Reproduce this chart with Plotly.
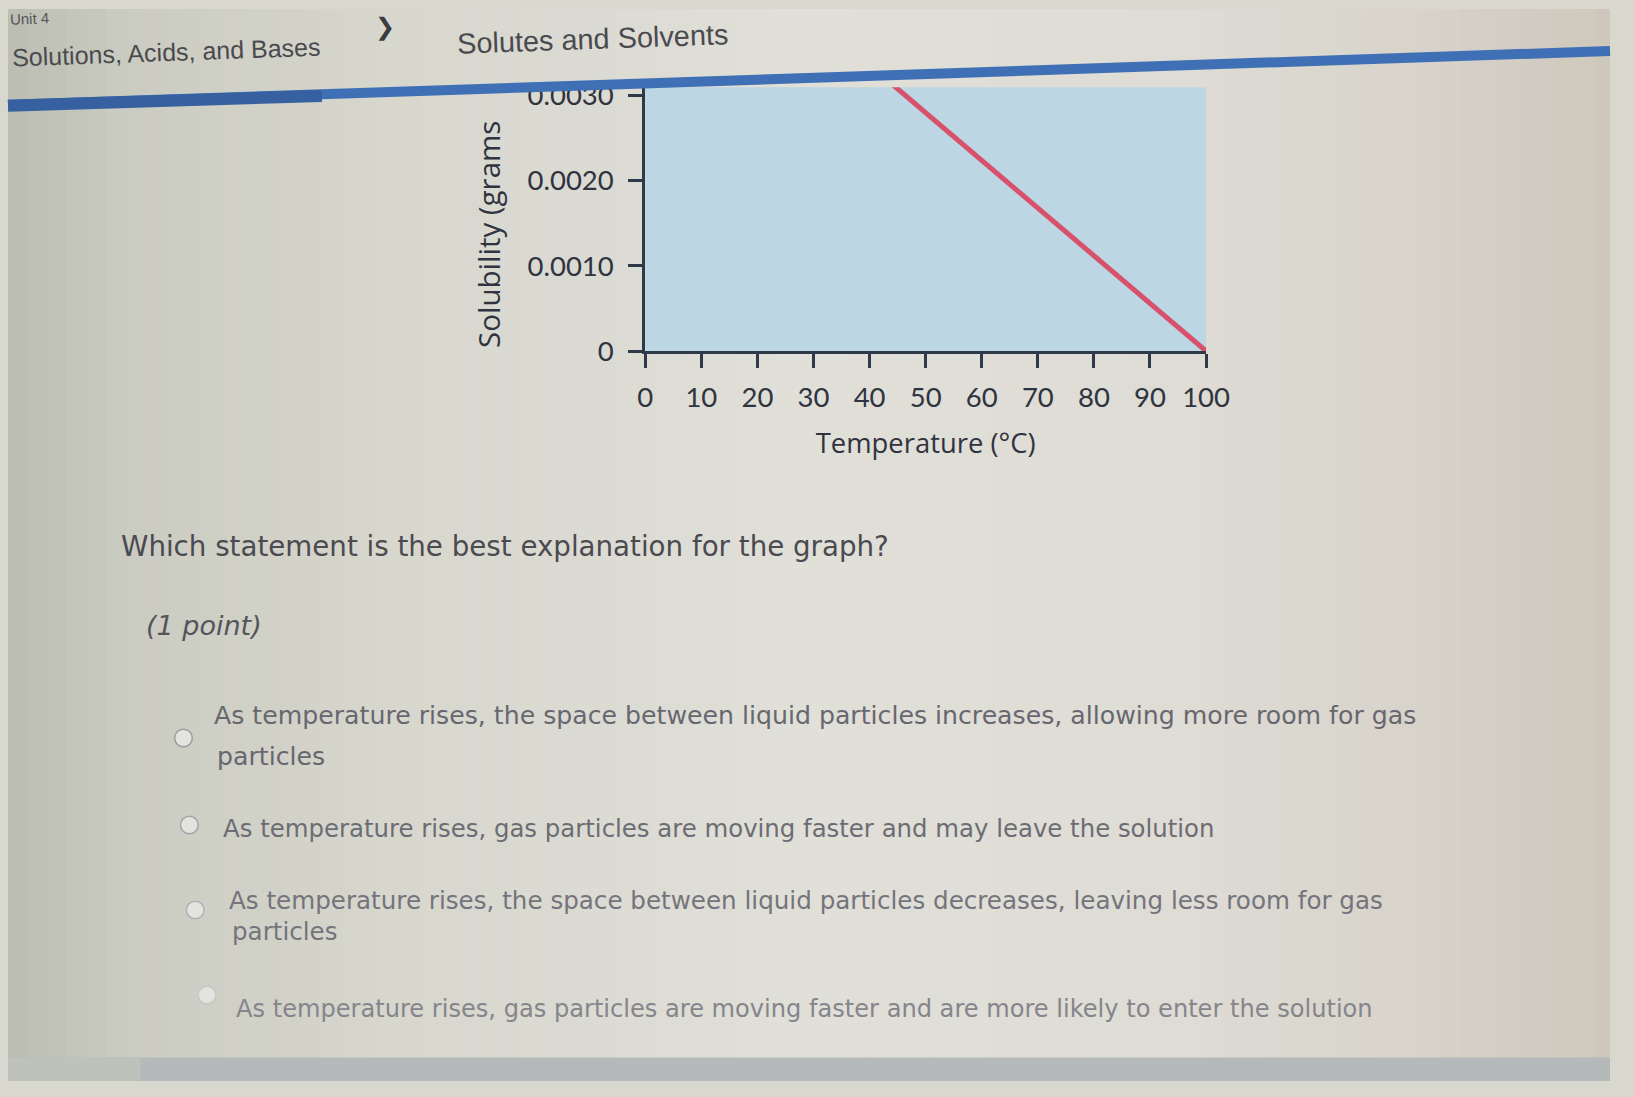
import plotly.graph_objects as go

# ---- data ----
temperature_c = [40, 100]
solubility_g = [0.00336, 0.0]
x_ticks = [0, 10, 20, 30, 40, 50, 60, 70, 80, 90, 100]
y_ticks = [0, 0.0010, 0.0020, 0.0030]
y_tick_labels = ["0", "0.0010", "0.0020", "0.0030"]

header_unit = "Unit 4"
header_left = "Solutions, Acids, and Bases"
header_right = "Solutes and Solvents"
question = "Which statement is the best explanation for the graph?"
points = "(1 point)"
options = [
    ["As temperature rises, the space between liquid particles increases, allowing more room for gas", "particles"],
    ["As temperature rises, gas particles are moving faster and may leave the solution"],
    ["As temperature rises, the space between liquid particles decreases, leaving less room for gas", "particles"],
    ["As temperature rises, gas particles are moving faster and are more likely to enter the solution"],
]

W, H = 1634, 1097
def px(x):
    return x / W
def py(y):
    return 1 - y / H

CHART_FONT = "Lato"
TITLE_FONT = "Open Sans"
PAGE_FONT = "Liberation Sans"
BODY_FONT = "DejaVu Sans"
AXIS_COL = "#2f3a48"
TXT_COL = "#2f3440"

fig = go.Figure()
fig.add_trace(go.Scatter(
    x=temperature_c, y=solubility_g, mode="lines",
    line=dict(color="#d9506a", width=5), showlegend=False, hoverinfo="skip"))

plot_left, plot_right = 650, 1222
plot_top, plot_bottom = 80, 350

fig.update_layout(
    width=W, height=H,
    margin=dict(l=0, r=0, t=0, b=0),
    paper_bgcolor="#d9d8cf",
    plot_bgcolor="#bcd6e4",
    xaxis=dict(
        domain=[px(plot_left), px(plot_right)], range=[0, 100],
        tickvals=x_ticks, ticks="outside", ticklen=14, tickwidth=2.5, tickcolor=AXIS_COL,
        showline=True, linecolor=AXIS_COL, linewidth=3, showgrid=False, zeroline=False,
        tickfont=dict(family=CHART_FONT, size=27.5, color=TXT_COL),
        ticklabelstandoff=6,
        title=dict(text="Temperature (°C)", font=dict(family=TITLE_FONT, size=27.4, color=TXT_COL), standoff=22),
        anchor="y",
    ),
    yaxis=dict(
        domain=[py(plot_bottom), py(plot_top)], range=[0, 0.0031],
        tickvals=y_ticks, ticktext=y_tick_labels, ticks="outside", ticklen=14, tickwidth=2.5,
        tickcolor=AXIS_COL,
        showline=True, linecolor=AXIS_COL, linewidth=3, showgrid=False, zeroline=False,
        tickfont=dict(family=CHART_FONT, size=27.5, color=TXT_COL),
        ticklabelstandoff=9,
        anchor="x",
    ),
)

def hex2rgb(h):
    h = h.lstrip("#")
    return [int(h[i:i + 2], 16) for i in (0, 2, 4)]

def interp_color(stops, x):
    for (x0, c0), (x1, c1) in zip(stops, stops[1:]):
        if x0 <= x <= x1:
            t = (x - x0) / (x1 - x0)
            a, b = hex2rgb(c0), hex2rgb(c1)
            return "rgb(%d,%d,%d)" % tuple(round(a[i] + (b[i] - a[i]) * t) for i in range(3))
    return stops[-1][1]

bg_stops = [(0, "#bbbdb2"), (120, "#cacbc1"), (400, "#d8d7ce"), (800, "#e0dfd8"),
            (1200, "#dedcd5"), (1450, "#d7d3ca"), (1634, "#cec7bc")]

shapes = []
step = 20
for x0 in range(0, W, step):
    shapes.append(dict(type="rect", xref="paper", yref="paper", x0=px(x0), x1=px(min(x0 + step + 1, W)),
                       y0=0, y1=1, fillcolor=interp_color(bg_stops, x0 + step / 2),
                       line=dict(width=0), layer="below"))
# plot area background above the page gradient
shapes.append(dict(type="rect", xref="x domain", yref="y domain", x0=0, x1=1, y0=0, y1=1,
                   fillcolor="#bcd6e4", line=dict(width=0), layer="below"))
# bottom strip
shapes.append(dict(type="rect", xref="paper", yref="paper", x0=0, x1=1, y0=0, y1=py(1073),
                   fillcolor="#b5b9b9", line=dict(width=0), layer="above"))
shapes.append(dict(type="rect", xref="paper", yref="paper", x0=0, x1=px(135), y0=0, y1=py(1073),
                   fillcolor="#bfc1bb", line=dict(width=0), layer="above"))
# blue header band (tilted)
shapes.append(dict(type="line", xref="paper", yref="paper", x0=0, y0=py(98), x1=1, y1=py(43),
                   line=dict(color="#3f6fb5", width=10), layer="above"))
shapes.append(dict(type="line", xref="paper", yref="paper", x0=0, y0=py(99), x1=px(320), y1=py(89),
                   line=dict(color="#36609f", width=12), layer="above"))
# radio buttons
radios = [(179, 746, "#9b9ba0"), (185, 835, "#a3a3a8"), (191, 922, "#b0b0b4"), (203, 1009, "#c6c6c6")]
for cx, cy, col in radios:
    r = 9
    shapes.append(dict(type="circle", xref="paper", yref="paper",
                       x0=px(cx - r), x1=px(cx + r), y0=py(cy + r), y1=py(cy - r),
                       line=dict(color=col, width=1.5), fillcolor="#e4e4df", layer="above"))
fig.update_layout(shapes=shapes)

ann = []
def text(t, x, y, size, color, family=PAGE_FONT, xanchor="left", angle=0, yanchor="middle"):
    ann.append(dict(text=t, x=px(x), y=py(y), xref="paper", yref="paper", showarrow=False,
                    xanchor=xanchor, yanchor=yanchor, textangle=angle,
                    font=dict(family=family, size=size, color=color)))

text(header_unit, 44, 10, 15, "#555558", xanchor="right", angle=-2)
text(header_left, 2, 44, 25, "#4a4a4e", angle=-2)
text("&#x276F;", 385, 18, 24, "#3c3c40", xanchor="center")
text(header_right, 455, 31, 28.9, "#4a4a4e", angle=-2)
# y-axis title (cut off by the header band in the original)
ann.append(dict(text="Solubility (grams", x=px(490), y=py(349), xref="paper", yref="paper",
                showarrow=False, xanchor="center", yanchor="bottom", textangle=-90,
                font=dict(family=TITLE_FONT, size=29.5, color=TXT_COL)))

text(question, 113, 550, 27.7, "#4a4a50", family=BODY_FONT)
text("<i>" + points + "</i>", 139, 631, 27, "#55555a", family=BODY_FONT)

opt_pos = [(208, 723, 42, 25.2, "#67676f"), (217, 839, 0, 24.4, "#6c6c74"),
           (223, 912, 32, 24.6, "#74747c"), (231, 1023, 0, 24.1, "#85858b")]
for (x, y, dy, size, col), lines in zip(opt_pos, options):
    text(lines[0], x, y, size, col, family=BODY_FONT)
    if len(lines) > 1:
        text(lines[1], x + 3, y + dy, size, col, family=BODY_FONT)

fig.update_layout(annotations=ann)
fig.write_html(
    "out.html",
    config={"displayModeBar": False},
    post_script=("document.documentElement.style.overflow='hidden';"
                 "document.body.style.overflow='hidden';"
                 "document.body.style.margin='0px';"),
)
